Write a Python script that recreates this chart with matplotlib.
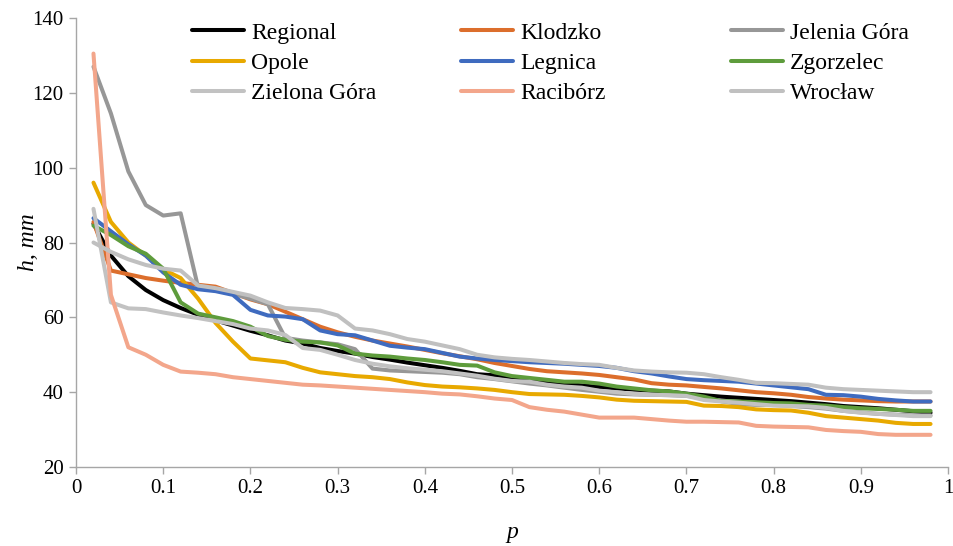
import numpy as np
import matplotlib
matplotlib.use("Agg")
import matplotlib.pyplot as plt

plt.rcParams['font.family'] = 'serif'
plt.rcParams['font.serif'] = ['Liberation Serif', 'DejaVu Serif']

# exceedance probability p = 0.02 ... 0.98
p = np.round(np.arange(1, 50) * 0.02, 2)

regional = [85, 76.5, 71, 67.3, 64.6, 62.5, 60.7, 59.2, 57.8, 56.4, 55.2, 53.8, 53.0, 51.8, 51.0,
            50.3, 49.4, 48.7, 47.9, 47.2, 46.5, 45.7, 44.8, 44.5, 43.9, 43.2, 42.7, 42.3, 41.8, 41.4,
            41.0, 40.7, 40.4, 40.2, 39.6, 39.2, 38.8, 38.5, 38.2, 37.9, 37.6, 37.2, 36.8, 36.3, 36.0,
            35.7, 35.3, 34.9, 34.5]
klodzko = [85.5, 72.5, 71.5, 70.5, 69.8, 69.2, 68.7, 68.2, 66.5, 64.8, 63.5, 61.5, 59.5, 57.5, 56.0,
           54.8, 53.8, 53.0, 52.2, 51.3, 50.4, 49.6, 48.8, 47.8, 47.0, 46.2, 45.6, 45.3, 45.0, 44.6,
           44.0, 43.4, 42.4, 42.0, 41.8, 41.4, 41.0, 40.5, 40.0, 39.7, 39.3, 38.7, 38.3, 38.0, 37.8,
           37.6, 37.5, 37.5, 37.5]
jelenia = [127, 114.5, 99, 90, 87.2, 87.8, 68, 67.2, 66.3, 65.0, 63.5, 54.5, 53.8, 53.3, 52.8,
           51.5, 46.3, 45.8, 45.6, 45.4, 45.2, 44.8, 44.0, 43.5, 42.9, 42.3, 41.8, 41.2, 40.6, 40.1,
           39.6, 39.4, 39.3, 39.2, 39.0, 38.5, 37.6, 36.8, 36.6, 36.6, 36.3, 36.0, 35.6, 35.0, 34.6,
           34.2, 34.0, 33.8, 33.8]
opole = [96, 85.5, 80, 76.5, 72.8, 70.5, 65, 58.5, 53.5, 49.0, 48.5, 48.0, 46.5, 45.3, 44.8,
         44.3, 44.0, 43.5, 42.6, 41.9, 41.5, 41.3, 41.0, 40.6, 40.0, 39.5, 39.4, 39.3, 39.0, 38.6,
         38.0, 37.7, 37.6, 37.5, 37.4, 36.4, 36.3, 36.0, 35.4, 35.2, 35.1, 34.5, 33.6, 33.2, 32.8,
         32.4, 31.8, 31.5, 31.5]
legnica = [86.5, 83, 79.5, 76.5, 72, 68.7, 67.5, 67.0, 66.0, 62.0, 60.5, 60.2, 59.5, 56.5, 55.5,
           55.2, 53.8, 52.4, 51.9, 51.5, 50.5, 49.5, 49.0, 48.6, 48.3, 48.0, 47.8, 47.6, 47.3, 47.0,
           46.5, 45.6, 45.0, 44.2, 43.5, 43.2, 43.0, 42.8, 42.3, 41.8, 41.3, 40.8, 39.3, 39.2, 38.8,
           38.2, 37.8, 37.5, 37.5]
zgorzelec = [84.5, 82, 79, 77, 73, 64, 61, 60, 59, 57.5, 55, 54, 53.5, 53.3, 52.5,
             50.3, 49.8, 49.5, 49.0, 48.6, 48.0, 47.3, 47.1, 45.3, 44.3, 43.8, 43.3, 42.8, 42.8, 42.3,
             41.5, 41.0, 40.5, 40.2, 39.6, 38.8, 37.6, 37.5, 37.3, 37.1, 37.0, 36.6, 36.4, 36.0, 35.7,
             35.5, 35.3, 35.0, 35.0]
zielona = [89, 64, 62.4, 62.2, 61.3, 60.5, 59.8, 59.0, 58.2, 57.0, 56.5, 55.3, 51.8, 51.3, 50.0,
           48.6, 47.6, 46.9, 46.4, 46.0, 45.6, 45.0, 44.4, 43.6, 43.0, 42.8, 42.0, 41.5, 41.2, 40.4,
           40.0, 39.5, 39.3, 39.2, 39.0, 37.9, 37.5, 37.2, 36.8, 36.4, 36.3, 36.2, 35.8, 35.0, 34.5,
           34.2, 33.9, 33.6, 33.6]
raciborz = [130.5, 66, 52, 50, 47.3, 45.5, 45.2, 44.8, 44.0, 43.5, 43.0, 42.5, 42.0, 41.8, 41.5,
            41.2, 40.9, 40.6, 40.3, 40.0, 39.6, 39.4, 38.9, 38.3, 37.9, 36.0, 35.3, 34.8, 34.0, 33.2,
            33.2, 33.2, 32.8, 32.4, 32.1, 32.1, 32.0, 31.9, 31.0, 30.8, 30.7, 30.6, 29.9, 29.6, 29.4,
            28.8, 28.6, 28.6, 28.6]
wroclaw = [80, 77.5, 75.5, 74, 73.0, 72.5, 68.5, 67.8, 66.8, 65.8, 64, 62.5, 62.2, 61.8, 60.5,
           57.0, 56.5, 55.5, 54.2, 53.5, 52.5, 51.5, 50.0, 49.3, 48.9, 48.6, 48.2, 47.8, 47.5, 47.3,
           46.5, 45.8, 45.5, 45.3, 45.2, 44.8, 44.0, 43.3, 42.5, 42.4, 42.2, 42.0, 41.2, 40.8, 40.6,
           40.4, 40.2, 40.0, 40.0]

names = ["Regional", "Klodzko", "Jelenia Góra", "Opole", "Legnica", "Zgorzelec",
         "Zielona Góra", "Racibórz", "Wrocław"]
series = [regional, klodzko, jelenia, opole, legnica, zgorzelec, zielona, raciborz, wroclaw]
colors = ["#000000", "#DC6E2C", "#979797", "#E8A900", "#3F6BBF", "#5E9C3C",
          "#C2C2C2", "#F3A68B", "#C0C0C0"]

fig = plt.figure(figsize=(9.54, 5.46), dpi=100)
ax = fig.add_axes([0.0797, 0.1447, 0.9140, 0.8223])

lines = []
for name, vals, c in zip(names, series, colors):
    ln, = ax.plot(p, vals, color=c, lw=2.9, label=name,
                  solid_joinstyle='round', solid_capstyle='round')
    lines.append(ln)

ax.set_xlim(0, 1)
ax.set_ylim(20, 140)
ax.set_xticks(np.arange(0, 1.01, 0.1))
ax.set_xticklabels(["0", "0.1", "0.2", "0.3", "0.4", "0.5", "0.6", "0.7", "0.8", "0.9", "1"])
ax.set_yticks(np.arange(20, 141, 20))
ax.tick_params(labelsize=15, length=5, width=1, color="#A6A6A6", pad=4)
for s in ["top", "right"]:
    ax.spines[s].set_visible(False)
for s in ["left", "bottom"]:
    ax.spines[s].set_color("#A6A6A6")
    ax.spines[s].set_linewidth(1)

ax.set_xlabel("p", fontsize=17, style="italic", labelpad=17)
ax.set_ylabel("h, mm", fontsize=17, style="italic", labelpad=-5)

# legend: three columns, three rows (Excel row-major order)
col_x = [0.184, 0.466, 0.749]
for k in range(3):
    idx = [k, k + 3, k + 6]
    leg = fig.legend([lines[i] for i in idx], [names[i] for i in idx],
                     loc="upper left", bbox_to_anchor=(col_x[k], 0.99),
                     frameon=False, fontsize=17, handlelength=2.2,
                     handletextpad=0.3, labelspacing=0.37, borderpad=0.2)

fig.savefig("out.png", dpi=100)
